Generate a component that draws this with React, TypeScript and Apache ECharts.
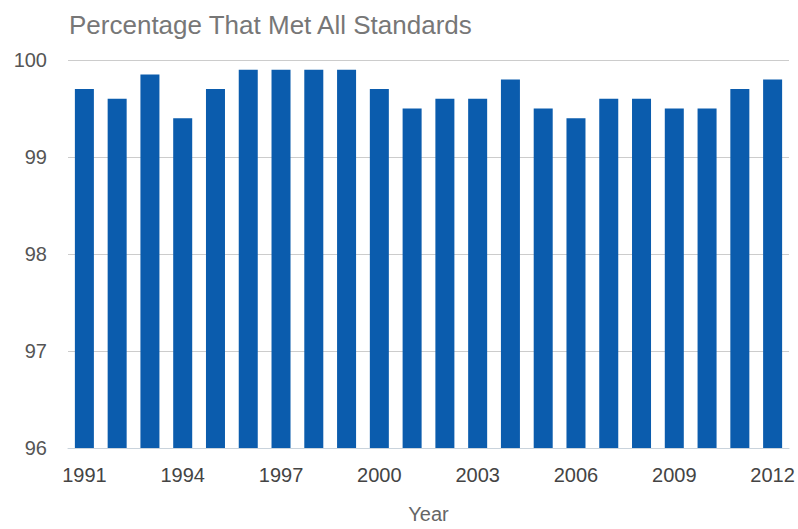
import React, { useEffect, useRef } from "react";
import * as echarts from "echarts";

const years = [
  "1991", "1992", "1993", "1994", "1995", "1996", "1997", "1998", "1999", "2000", "2001",
  "2002", "2003", "2004", "2005", "2006", "2007", "2008", "2009", "2010", "2011", "2012",
];
const percentMet = [
  99.7, 99.6, 99.85, 99.4, 99.7, 99.9, 99.9, 99.9, 99.9, 99.7, 99.5,
  99.6, 99.6, 99.8, 99.5, 99.4, 99.6, 99.6, 99.5, 99.5, 99.7, 99.8,
];
const yTicks = [96, 97, 98, 99, 100];

const FONT = "Arial, 'Liberation Sans', sans-serif";

export default function App() {
  const ref = useRef<HTMLDivElement>(null);

  useEffect(() => {
    if (!ref.current) return;
    const chart = echarts.init(ref.current, null, { renderer: "svg" });
    chart.setOption({
      animation: false,
      backgroundColor: "#ffffff",
      title: {
        text: "Percentage That Met All Standards",
        left: 64,
        top: 7,
        textStyle: { color: "#777777", fontSize: 26, fontWeight: "normal", fontFamily: FONT },
      },
      grid: { left: 68, right: 9, top: 60, bottom: 79, containLabel: false },
      xAxis: {
        type: "category",
        data: years,
        name: "Year",
        nameLocation: "middle",
        nameGap: 56,
        nameTextStyle: { color: "#666", fontSize: 20, fontFamily: FONT },
        axisTick: { show: false },
        axisLine: { show: true, lineStyle: { color: "#c9d3dc", width: 1 } },
        axisLabel: {
          interval: 2,
          color: "#444",
          fontSize: 20,
          fontFamily: FONT,
          margin: 17,
        },
      },
      yAxis: {
        type: "value",
        min: yTicks[0],
        max: yTicks[yTicks.length - 1],
        interval: 1,
        axisLine: { show: false },
        axisTick: { show: false },
        splitLine: { lineStyle: { color: "#cccccc", width: 1 } },
        axisLabel: { color: "#555", fontSize: 20, fontFamily: FONT, margin: 21 },
      },
      series: [
        {
          type: "bar",
          data: percentMet,
          barWidth: "58%",
          itemStyle: { color: "#0b5cad" },
        },
      ],
    });
    return () => chart.dispose();
  }, []);

  return <div ref={ref} style={{ width: 798, height: 529, position: "absolute", left: 0, top: 0 }} />;
}
